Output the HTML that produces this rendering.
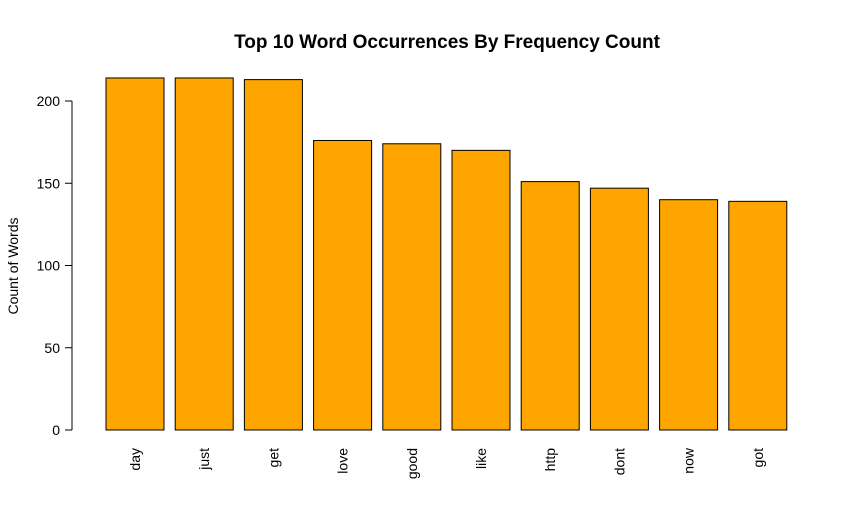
<!DOCTYPE html>
<html><head><meta charset="utf-8"><style>
body{margin:0;background:#fff;}
svg{display:block;font-family:"Liberation Sans",Arial,sans-serif;}
</style></head><body>
<svg id="chart" width="855" height="532">
<text x="447" y="48" text-anchor="middle" font-size="19" font-weight="bold">Top 10 Word Occurrences By Frequency Count</text>
<text transform="translate(18,266) rotate(-90)" text-anchor="middle" font-size="14">Count of Words</text>
<g id="bars"></g><g id="yaxis"></g><g id="xlabels"></g>
</svg>
<script>
const categories=["day","just","get","love","good","like","http","dont","now","got"];
const counts=[214,214,213,176,174,170,151,147,140,139];
const yTicks=[0,50,100,150,200];
const NS="http://www.w3.org/2000/svg";
const y0=430, pxPerUnit=(430-101)/200;
function y(v){return y0-v*pxPerUnit;}
function x(i){return 106+i*69.2;}
const bw=58;
const bars=document.getElementById('bars');
const xl=document.getElementById('xlabels');
categories.forEach((c,i)=>{
 const r=document.createElementNS(NS,'rect');
 r.setAttribute('x',x(i));r.setAttribute('y',y(counts[i]));
 r.setAttribute('width',bw);r.setAttribute('height',y0-y(counts[i]));
 r.setAttribute('fill','#FFA500');r.setAttribute('stroke','#000');r.setAttribute('stroke-width','1');
 
 
 bars.appendChild(r);
 const t=document.createElementNS(NS,'text');
 const cx=x(i)+bw/2+5;
 t.setAttribute('transform','translate('+cx+',448) rotate(-90)');
 t.setAttribute('text-anchor','end');t.setAttribute('font-size','14');
 t.textContent=c;
 
 
 xl.appendChild(t);
});
const ya=document.getElementById('yaxis');
const ax=document.createElementNS(NS,'line');
ax.setAttribute('x1',72);ax.setAttribute('x2',72);ax.setAttribute('y1',y(0));ax.setAttribute('y2',y(200));ax.setAttribute('stroke','#000');


ya.appendChild(ax);
yTicks.forEach(v=>{
 const l=document.createElementNS(NS,'line');
 l.setAttribute('x1',65);l.setAttribute('x2',72);l.setAttribute('y1',y(v));l.setAttribute('y2',y(v));l.setAttribute('stroke','#000');
 
 
 ya.appendChild(l);
 const t=document.createElementNS(NS,'text');
 t.setAttribute('x',60);t.setAttribute('y',y(v)+5);
 t.setAttribute('text-anchor','end');t.setAttribute('font-size','14');
 t.textContent=v;
 
 
 ya.appendChild(t);
});
</script>
</body></html>
